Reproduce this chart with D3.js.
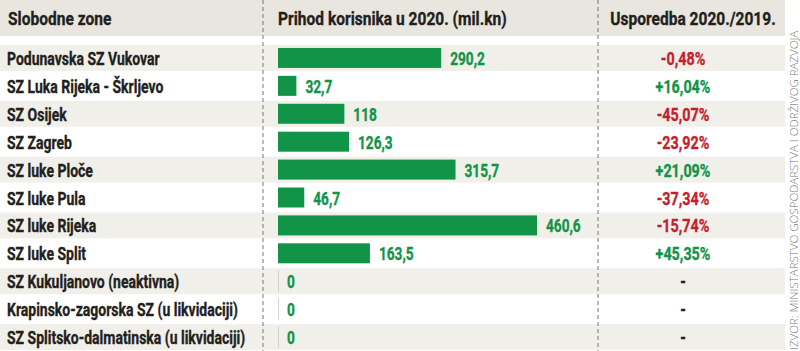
<!DOCTYPE html>
<html><head><meta charset="utf-8">
<script src="https://cdn.jsdelivr.net/npm/d3@7"></script>
<style>
body{margin:0;background:#fff;}
svg{display:block;}
</style></head>
<body>
<svg id="c" width="800" height="351"></svg>
<script>
const headers = ["Slobodne zone", "Prihod korisnika u 2020. (mil.kn)", "Usporedba 2020./2019."];
const zones = ["Podunavska SZ Vukovar","SZ Luka Rijeka - Škrljevo","SZ Osijek","SZ Zagreb","SZ luke Ploče","SZ luke Pula","SZ luke Rijeka","SZ luke Split","SZ Kukuljanovo (neaktivna)","Krapinsko-zagorska SZ (u likvidaciji)","SZ Splitsko-dalmatinska (u likvidaciji)"];
const revenue2020 = [290.2, 32.7, 118, 126.3, 315.7, 46.7, 460.6, 163.5, 0, 0, 0];
const change = [-0.48, 16.04, -45.07, -23.92, 21.09, -37.34, -15.74, 45.35, null, null, null];
const source = "IZVOR: MINISTARSTVO GOSPODARSTVA I ODRŽIVOG RAZVOJA";

const svg = d3.select("#c");
const W = 785;
const FONT = "Roboto, 'DejaVu Sans Condensed', sans-serif";
const green = "#119448", red = "#c41f2e", shade = "#f0efe9", headBg = "#e8e6de", ink = "#231f20";

const y = d3.scaleBand().domain(d3.range(zones.length)).range([44, 351]).paddingInner(0);
const x = d3.scaleLinear().domain([0, 460.6]).range([278, 537]);
const fmt = v => String(v).replace(".", ",");
const fmtPct = v => v == null ? "-" : (v > 0 ? "+" : "-") + d3.format(".2f")(Math.abs(v)).replace(".", ",") + "%";
const rowBase = i => y(i) + y.bandwidth()/2 + 7;

// condensed bold text: position via translate, narrow via scale
function ctext(sel, k, px, py, color){
  sel.attr("transform",(d,i)=>`translate(${px(d,i)},${py(d,i)}) scale(${k},1)`)
     .attr("font-family",FONT).attr("font-weight","bold")
     .attr("fill",(d,i)=>color(d,i)).attr("stroke",(d,i)=>color(d,i))
     .attr("stroke-width",0.35).attr("paint-order","stroke");
}

// header
svg.append("rect").attr("x",0).attr("y",0).attr("width",W).attr("height",36).attr("fill",headBg);
const hx = [8, 278, 693];
const ha = ["start","start","middle"];
svg.selectAll("text.h").data(headers).join("text").attr("class","h")
  .call(ctext, 0.84, (d,i)=>hx[i], ()=>25, ()=>ink)
  .attr("text-anchor",(d,i)=>ha[i]).attr("font-size",18.5).text(d=>d);

// row shading
svg.selectAll("rect.s").data(zones.map((d,i)=>i).filter(i=>i%2===0)).join("rect").attr("class","s")
  .attr("x",0).attr("width",W).attr("y",i=>y(i)+1).attr("height",y.bandwidth()-2).attr("fill",shade);

// dashed separators
[263, 598].forEach(px=>{
  svg.append("line").attr("x1",px).attr("x2",px).attr("y1",0).attr("y2",351)
    .attr("stroke","#777").attr("stroke-width",1).attr("stroke-dasharray","4,3");
});

// labels
svg.selectAll("text.z").data(zones).join("text").attr("class","z")
  .call(ctext, 0.8, ()=>7, (d,i)=>rowBase(i), ()=>ink)
  .attr("font-size",17.5).text(d=>d);

// bars
svg.selectAll("rect.b").data(revenue2020).join("rect").attr("class","b")
  .attr("x",x(0)).attr("y",(d,i)=>y(i)+y.bandwidth()/2-10)
  .attr("width",d=>x(d)-x(0)).attr("height",20).attr("fill",green);
svg.selectAll("line.zero").data(revenue2020.map((d,i)=>({d,i})).filter(o=>o.d===0)).join("line").attr("class","zero")
  .attr("x1",x(0)+0.5).attr("x2",x(0)+0.5).attr("y1",o=>y(o.i)+3).attr("y2",o=>y(o.i)+y.bandwidth()-3)
  .attr("stroke","#d4d2cc").attr("stroke-width",1);
svg.selectAll("text.v").data(revenue2020).join("text").attr("class","v")
  .call(ctext, 0.78, d=>x(d)+9, (d,i)=>rowBase(i), ()=>green)
  .attr("font-size",17.5).text(fmt);

// change
svg.selectAll("text.p").data(change).join("text").attr("class","p")
  .call(ctext, 0.82, ()=>683, (d,i)=>rowBase(i), d=>d==null?ink:(d<0?red:green))
  .attr("text-anchor","middle").attr("font-size",17.5).text(fmtPct);

// source
svg.append("text").attr("transform","translate(798,350) rotate(-90)")
  .attr("font-family","'Open Sans',sans-serif").attr("font-weight",300).attr("font-size",11.5)
  .attr("fill","#777").text(source);
</script>
</body></html>
